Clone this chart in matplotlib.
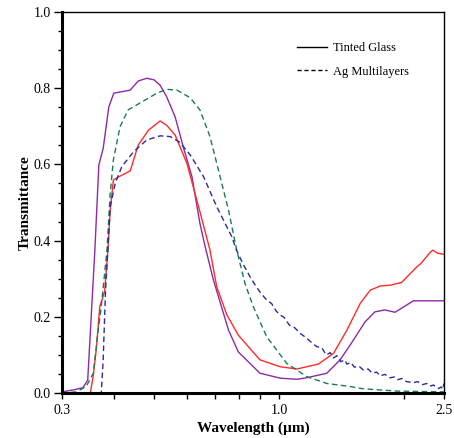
import matplotlib
matplotlib.use("Agg")
import matplotlib.pyplot as plt
from matplotlib.ticker import FixedLocator, NullFormatter, MultipleLocator, FormatStrFormatter
from matplotlib.lines import Line2D

plt.rcParams['font.family'] = ['Liberation Serif', 'DejaVu Serif']

# tinted glass, purple
wl_purple = [0.30, 0.319, 0.337, 0.346, 0.36, 0.368, 0.377, 0.389, 0.40, 0.438, 0.458, 0.48,
             0.50, 0.517, 0.536, 0.562, 0.588, 0.617, 0.645, 0.664, 0.695, 0.756, 0.798,
             0.90, 1.007, 1.104, 1.167, 1.305, 1.404, 1.485, 1.614, 1.704, 1.80, 1.905,
             2.11, 2.5]
t_purple = [0.003, 0.008, 0.014, 0.034, 0.375, 0.598, 0.642, 0.751, 0.787, 0.795, 0.819, 0.826,
            0.822, 0.808, 0.778, 0.725, 0.646, 0.568, 0.445, 0.384, 0.297, 0.165, 0.108,
            0.052, 0.039, 0.036, 0.040, 0.052, 0.087, 0.126, 0.187, 0.213, 0.218, 0.212,
            0.242, 0.242]

# tinted glass, red
wl_red = [0.30, 0.351, 0.357, 0.363, 0.37, 0.380, 0.387, 0.392, 0.399, 0.412, 0.438, 0.458,
          0.485, 0.517, 0.536, 0.562, 0.60, 0.645, 0.682, 0.708, 0.749, 0.798, 0.90, 1.007,
          1.104, 1.245, 1.354, 1.458, 1.57, 1.66, 1.755, 1.855, 1.975, 2.15, 2.2, 2.31,
          2.35, 2.41, 2.5]
t_red = [0.0, 0.0, 0.047, 0.117, 0.227, 0.266, 0.375, 0.48, 0.559, 0.568, 0.583, 0.651,
         0.69, 0.714, 0.703, 0.677, 0.603, 0.476, 0.375, 0.279, 0.205, 0.152, 0.087, 0.069,
         0.063, 0.076, 0.104, 0.165, 0.235, 0.27, 0.281, 0.283, 0.29, 0.331, 0.34, 0.368,
         0.375, 0.367, 0.364]

# Ag multilayer, green
wl_green = [0.30, 0.325, 0.343, 0.357, 0.366, 0.373, 0.385, 0.392, 0.399, 0.414, 0.433, 0.464,
            0.508, 0.536, 0.568, 0.611, 0.645, 0.682, 0.708, 0.756, 0.79, 0.828, 0.867,
            0.934, 1.044, 1.167, 1.305, 1.485, 1.6, 1.93, 2.5]
t_green = [0.0, 0.003, 0.017, 0.052, 0.157, 0.227, 0.375, 0.524, 0.612, 0.699, 0.743, 0.762,
           0.787, 0.797, 0.795, 0.775, 0.743, 0.673, 0.603, 0.48, 0.378, 0.288, 0.227,
           0.148, 0.078, 0.043, 0.025, 0.017, 0.011, 0.005, 0.003]

# Ag multilayer, blue (noisy tail)
wl_blue = [0.30, 0.37, 0.373, 0.377, 0.382, 0.387, 0.392, 0.403, 0.418, 0.446, 0.48, 0.517,
           0.547, 0.577, 0.611, 0.658, 0.708, 0.77, 0.79, 0.82, 0.852, 0.88, 0.905, 0.934,
           0.96, 0.985, 1.007, 1.03, 1.06, 1.09, 1.124, 1.16, 1.2, 1.233, 1.27, 1.3,
           1.33, 1.354, 1.38, 1.41, 1.44, 1.458, 1.49, 1.52, 1.56, 1.6, 1.64, 1.68, 1.72,
           1.755, 1.8, 1.85, 1.9, 1.93, 1.98, 2.03, 2.11, 2.16, 2.22, 2.27, 2.31, 2.36,
           2.4, 2.43, 2.46, 2.48, 2.5]
t_blue = [0.0, 0.0, 0.0, 0.087, 0.27, 0.375, 0.489, 0.55, 0.594, 0.633, 0.664, 0.675,
          0.673, 0.658, 0.625, 0.568, 0.489, 0.41, 0.375, 0.338, 0.305, 0.28, 0.262, 0.244,
          0.235, 0.215, 0.205, 0.198, 0.178, 0.172, 0.157, 0.146, 0.132, 0.122, 0.118, 0.100,
          0.106, 0.092, 0.098, 0.082, 0.087, 0.076, 0.080, 0.068, 0.070, 0.060, 0.063, 0.052,
          0.055, 0.045, 0.049, 0.040, 0.042, 0.035, 0.038, 0.030, 0.027, 0.030, 0.022, 0.025,
          0.018, 0.021, 0.014, 0.012, 0.016, 0.010, 0.025]

fig = plt.figure(figsize=(4.54, 4.38), dpi=100)
ax = fig.add_axes([0.1366, 0.1027, 0.8414, 0.8699])

ax.plot(wl_purple, t_purple, color='#8e2aa6', lw=1.0)
ax.plot(wl_red, t_red, color='#ff2a2a', lw=1.0)
ax.plot(wl_green, t_green, color='#1a7a56', lw=1.0, ls=(0, (4, 2.5)))
ax.plot(wl_blue, t_blue, color='#2b2b9e', lw=1.0, ls=(0, (4, 2.5)))

ax.set_xscale('log')
ax.set_xlim(0.3, 2.5)
ax.set_ylim(0, 1.0)

ax.xaxis.set_major_locator(FixedLocator([0.3, 1.0, 2.5]))
ax.xaxis.set_major_formatter(FormatStrFormatter('%.1f'))
ax.xaxis.set_minor_locator(FixedLocator([0.4, 0.5, 0.6, 0.7, 0.8, 0.9, 2.0]))
ax.xaxis.set_minor_formatter(NullFormatter())
ax.yaxis.set_major_locator(MultipleLocator(0.2))
ax.yaxis.set_major_formatter(FormatStrFormatter('%.1f'))
ax.yaxis.set_minor_locator(MultipleLocator(0.05))

ax.tick_params(axis='both', which='both', direction='out', labelsize=10, colors='black')
ax.tick_params(axis='y', which='major', length=6, width=1, pad=2)
ax.tick_params(axis='y', which='minor', length=3, width=1)
ax.tick_params(axis='x', which='both', length=4, width=1)
ax.tick_params(axis='x', which='major', pad=4)

ax.spines['left'].set_linewidth(2.2)
ax.spines['bottom'].set_linewidth(2.2)
ax.spines['top'].set_linewidth(1.0)
ax.spines['right'].set_linewidth(1.0)

ax.set_xlabel('Wavelength (\u00b5m)', fontsize=11, fontweight='bold', labelpad=3)
ax.set_ylabel('Transmittance', fontsize=11, fontweight='bold', labelpad=1.5)

handles = [Line2D([], [], color='black', lw=1.0),
           Line2D([], [], color='black', lw=1.0, ls=(0, (3, 2)))]
ax.legend(handles, ['Tinted Glass', 'Ag Multilayers'], loc='upper left',
          bbox_to_anchor=(0.585, 0.95), frameon=False, fontsize=9,
          handlelength=2.4, handletextpad=0.5, labelspacing=0.9)

fig.savefig('out.png', dpi=100)
